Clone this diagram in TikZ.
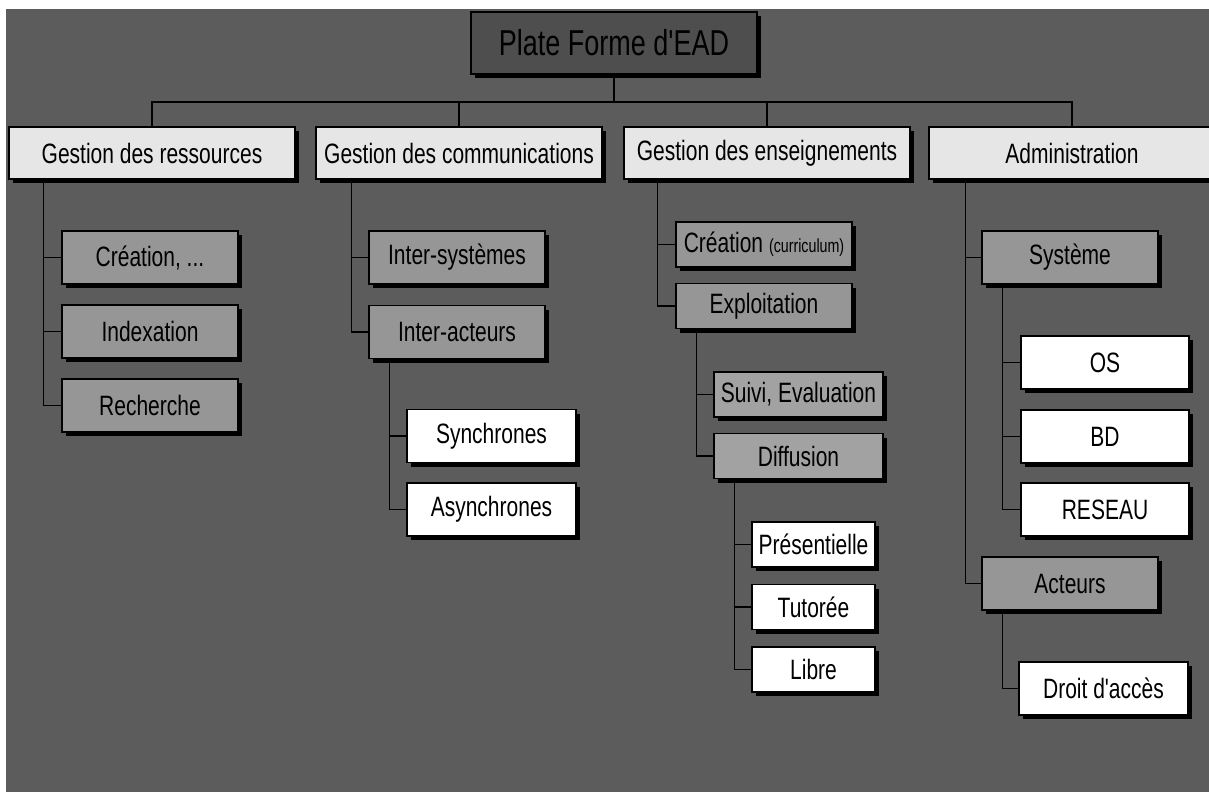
\documentclass[tikz,border=0pt]{standalone}
\usepackage{fontspec}
\setmainfont[FakeStretch=0.75]{Liberation Sans}
\newfontfamily\aposfont[FakeStretch=0.75]{Liberation Sans}
\usetikzlibrary{shadows}
\newcommand\myapos{{\aposfont\char"27}}
\definecolor{bgc}{RGB}{92,92,92}
\definecolor{rootc}{RGB}{78,78,78}
\definecolor{lonec}{RGB}{230,230,230}
\definecolor{ltwoc}{RGB}{150,150,150}
\definecolor{lthreec}{RGB}{162,162,162}
\tikzset{
  boxbase/.style={draw=black, line width=1.3pt, inner sep=0pt, anchor=center,
    font=\fontsize{28}{30}\selectfont,
    drop shadow={shadow xshift=4pt, shadow yshift=-4pt, fill=black, opacity=1}},
  rootbox/.style={boxbase, fill=rootc, minimum width=286pt, minimum height=62pt,
    font=\fontsize{36}{38}\selectfont},
  lonebox/.style={boxbase, fill=lonec, minimum width=286pt, minimum height=52pt},
  ltwobox/.style={boxbase, fill=ltwoc, minimum width=176pt, minimum height=53pt},
  lthreebox/.style={boxbase, fill=lthreec, minimum width=169pt, minimum height=45pt},
  leafbox/.style={boxbase, fill=white, minimum width=169pt, minimum height=53pt},
  conn/.style={draw=black, line width=1.4pt}
}
\begin{document}
\begin{tikzpicture}[x=1pt,y=-1pt]
\useasboundingbox (0,0) rectangle (1209,792);
\fill[white] (0,0) rectangle (1209,792);
\fill[bgc] (6,9) rectangle (1209,792);
\coordinate (bus) at (0,102);

% root
\node[rootbox] (root) at (614,43) {Plate Forme d\myapos EAD};

% level 1
\node[lonebox] (res) at (152,153) {Gestion des ressources};
\node[lonebox] (com) at (459,153) {Gestion des communications};
\node[lonebox] (ens) at (767,153) {Gestion des enseignements};
\node[lonebox] (adm) at (1072,153) {Administration};

% ressources
\node[ltwobox] (rcre) at (150,257.5) {Création, ...};
\node[ltwobox] (rind) at (150,331.5) {Indexation};
\node[ltwobox] (rrec) at (150,405.5) {Recherche};

% communications
\node[ltwobox] (csys) at (457,257.5) {Inter-systèmes};
\node[ltwobox] (cact) at (457,332) {Inter-acteurs};
\node[leafbox] (csyn) at (491.5,436) {Synchrones};
\node[leafbox] (casy) at (491.5,509.5) {Asynchrones};

% enseignements
\node[ltwobox, minimum height=45pt] (ecre) at (764,244.5) {Création {\fontsize{19}{20}\selectfont (curriculum)}};
\node[ltwobox, minimum height=45pt] (eexp) at (764,306) {Exploitation};
\node[lthreebox] (esui) at (798.5,394.5) {Suivi, Evaluation};
\node[lthreebox] (edif) at (798.5,456) {Diffusion};
\node[leafbox, minimum width=123pt, minimum height=45pt] (epre) at (813.5,544.5) {Présentielle};
\node[leafbox, minimum width=123pt, minimum height=45pt] (etut) at (813.5,607) {Tutorée};
\node[leafbox, minimum width=123pt, minimum height=45pt] (elib) at (813.5,669.5) {Libre};

% administration
\node[ltwobox] (asys) at (1070,257.5) {Système};
\node[leafbox, minimum width=168pt] (aos) at (1105,362.5) {OS};
\node[leafbox, minimum width=168pt] (abd) at (1105,436.5) {BD};
\node[leafbox, minimum width=168pt] (ares) at (1105,509.5) {RESEAU};
\node[ltwobox] (aact) at (1070,583.5) {Acteurs};
\node[leafbox] (adro) at (1103.5,688.5) {Droit d\myapos accès};

% bus
\draw[conn] (root.south) -- (root.south |- bus);
\draw[conn] (res.north) -- (res.north |- bus) -- (adm.north |- bus) -- (adm.north);
\draw[conn] (com.north) -- (com.north |- bus);
\draw[conn] (ens.north) -- (ens.north |- bus);

% ressources
\draw[conn] ([xshift=35pt]res.south west) |- (rcre.west);
\draw[conn] ([xshift=35pt]res.south west) |- (rind.west);
\draw[conn] ([xshift=35pt]res.south west) |- (rrec.west);

% communications
\draw[conn] ([xshift=36pt]com.south west) |- (csys.west);
\draw[conn] ([xshift=36pt]com.south west) |- (cact.west);
\draw[conn] ([xshift=21pt]cact.south west) |- (csyn.west);
\draw[conn] ([xshift=21pt]cact.south west) |- (casy.west);

% enseignements
\draw[conn] ([xshift=34pt]ens.south west) |- (ecre.west);
\draw[conn] ([xshift=34pt]ens.south west) |- (eexp.west);
\draw[conn] ([xshift=21pt]eexp.south west) |- (esui.west);
\draw[conn] ([xshift=21pt]eexp.south west) |- (edif.west);
\draw[conn] ([xshift=21pt]edif.south west) |- (epre.west);
\draw[conn] ([xshift=21pt]edif.south west) |- (etut.west);
\draw[conn] ([xshift=21pt]edif.south west) |- (elib.west);

% administration
\draw[conn] ([xshift=37pt]adm.south west) |- (asys.west);
\draw[conn] ([xshift=37pt]adm.south west) |- (aact.west);
\draw[conn] ([xshift=21pt]asys.south west) |- (aos.west);
\draw[conn] ([xshift=21pt]asys.south west) |- (abd.west);
\draw[conn] ([xshift=21pt]asys.south west) |- (ares.west);
\draw[conn] ([xshift=21pt]aact.south west) |- (adro.west);
\end{tikzpicture}
\end{document}
